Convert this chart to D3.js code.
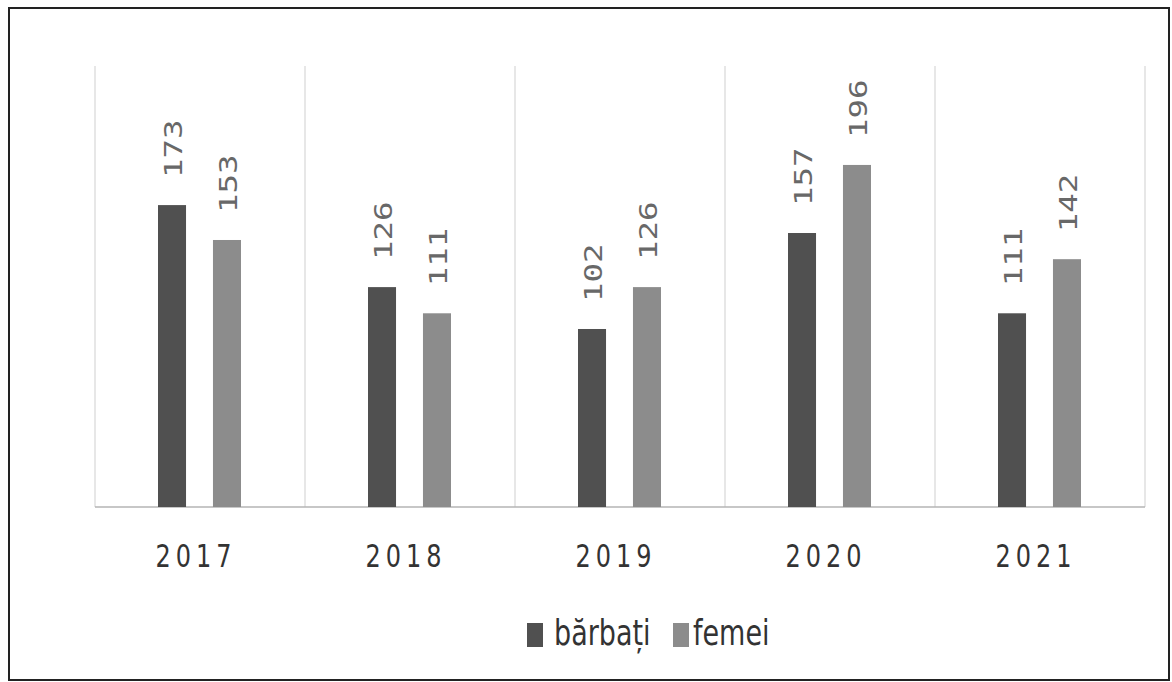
<!DOCTYPE html>
<html>
<head>
<meta charset="utf-8">
<script src="https://cdn.jsdelivr.net/npm/d3@7"></script>
<style>
  body { margin: 0; background: #fff; }
  svg { display: block; }
</style>
</head>
<body>
<div id="chart"></div>
<script>
var years = ["2017", "2018", "2019", "2020", "2021"];
var seriesNames = ["bărbați", "femei"];
var barbati = [173, 126, 102, 157, 111];
var femei = [153, 111, 126, 196, 142];
var seriesColors = ["#505050", "#8c8c8c"];

(function() {
    var W = 1172, H = 682;
    var margin = {top: 66, right: 27, bottom: 175, left: 95},
        width = W - margin.left - margin.right,
        height = H - margin.top - margin.bottom;
    var stretch = 1.35; // the picture's text is taller than wide

    var svg = d3.select("#chart").append("svg")
        .attr("width", W)
        .attr("height", H);

    // outer frame
    svg.append("rect")
        .attr("x", 9).attr("y", 8)
        .attr("width", 1160).attr("height", 672)
        .attr("fill", "none")
        .attr("stroke", "#222")
        .attr("stroke-width", 2);

    var g = svg.append("g")
        .attr("transform", "translate(" + margin.left + "," + margin.top + ")");

    var x = d3.scaleBand().domain(years).range([0, width]).padding(0);
    var x1 = d3.scaleBand().domain(seriesNames).range([63, 146]).paddingInner(0.49);
    var y = d3.scaleLinear().domain([0, 252.7]).range([height, 0]);

    // vertical separators
    g.selectAll("line.sep")
        .data(d3.range(years.length + 1))
        .enter().append("line")
        .attr("class", "sep")
        .attr("x1", function(i) { return i * x.bandwidth(); })
        .attr("x2", function(i) { return i * x.bandwidth(); })
        .attr("y1", 0).attr("y2", height)
        .attr("stroke", "#cfcfcf").attr("stroke-width", 1);

    // baseline
    g.append("line")
        .attr("x1", 0).attr("x2", width)
        .attr("y1", height).attr("y2", height)
        .attr("stroke", "#b5b5b5").attr("stroke-width", 1.5);

    var data = years.map(function(yr, i) {
        return {year: yr, values: [barbati[i], femei[i]]};
    });

    var groups = g.selectAll("g.year")
        .data(data)
        .enter().append("g")
        .attr("transform", function(d) { return "translate(" + x(d.year) + ",0)"; });

    groups.selectAll("rect")
        .data(function(d) { return d.values.map(function(v, j) { return {s: seriesNames[j], v: v, j: j}; }); })
        .enter().append("rect")
        .attr("x", function(d) { return x1(d.s); })
        .attr("width", x1.bandwidth())
        .attr("y", function(d) { return y(d.v); })
        .attr("height", function(d) { return height - y(d.v); })
        .attr("fill", function(d) { return seriesColors[d.j]; });

    groups.selectAll("text.val")
        .data(function(d) { return d.values.map(function(v, j) { return {s: seriesNames[j], v: v}; }); })
        .enter().append("text")
        .attr("class", "val")
        .attr("transform", function(d) {
            var cx = x1(d.s) + x1.bandwidth() / 2 + 10;
            return "translate(" + cx + "," + (y(d.v) - 27) + ") rotate(-90) scale(" + stretch + ",1)";
        })
        .attr("font-family", "DejaVu Sans Mono, monospace")
        .attr("font-size", 24)
        .attr("fill", "#686868")
        .text(function(d) { return d.v; });

    // x axis labels
    g.selectAll("text.year")
        .data(years)
        .enter().append("text")
        .attr("transform", function(d) {
            return "translate(" + (x(d) + x.bandwidth() / 2 - 4) + "," + (height + 60) + ") scale(1," + stretch + ")";
        })
        .attr("text-anchor", "middle")
        .attr("font-family", "DejaVu Sans, sans-serif")
        .attr("font-size", 24)
        .attr("letter-spacing", 5)
        .attr("fill", "#333")
        .text(function(d) { return d; });

    // legend
    var legend = svg.append("g").attr("transform", "translate(527,623)");
    var lx = [0, 146];
    seriesNames.forEach(function(name, i) {
        legend.append("rect")
            .attr("x", lx[i]).attr("y", 0)
            .attr("width", 16).attr("height", 24)
            .attr("fill", seriesColors[i]);
        legend.append("text")
            .attr("transform", "translate(" + (lx[i] + (i === 0 ? 27 : 20)) + ",22) scale(1,1.3)")
            .attr("font-family", "DejaVu Sans, sans-serif")
            .attr("font-size", 27)
            .attr("fill", "#333")
            .text(name);
    });
})();
</script>
</body>
</html>
